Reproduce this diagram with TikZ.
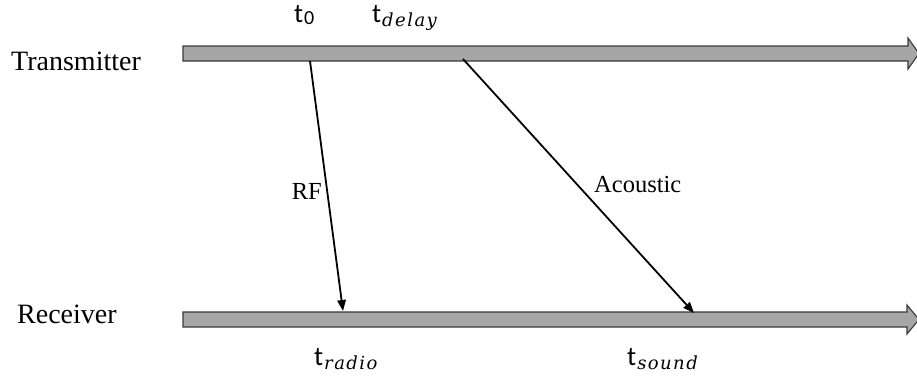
\documentclass[tikz,border=0pt]{standalone}
\usepackage{fontspec}
\setmainfont{Liberation Serif}
\newfontfamily\tfont{Carlito}
\newfontfamily\subfont[LetterSpace=8]{DejaVu Serif}
\usetikzlibrary{arrows.meta}
\definecolor{bargray}{HTML}{A6A6A6}
\definecolor{barline}{HTML}{3A3A3A}
\tikzset{
  bar/.style={fill=bargray,draw=barline,line width=1.1pt,line join=miter},
  msg/.style={draw=black,line width=1.8pt,-{Triangle[length=11pt,width=8.5pt]}},
  lbl/.style={inner sep=0pt,font=\fontsize{28}{30}\selectfont},
  slbl/.style={inner sep=0pt,font=\fontsize{24.5}{27}\selectfont},
  tlbl/.style={inner sep=0pt,anchor=base west,font=\tfont\fontsize{27}{30}\selectfont},
}
\newcommand{\tsub}[1]{\kern1pt\raisebox{-4pt}{\subfont\fontsize{18}{20}\selectfont\itshape #1}}
\newcommand{\tsubup}[1]{\kern1pt\raisebox{-2.5pt}{\fontsize{20}{20}\selectfont #1}}
\begin{document}
\begin{tikzpicture}[x=1pt,y=-1pt]
\useasboundingbox (0,0) rectangle (917,383);
% bars
\path[bar] (183,46) -- (908,46) -- (908,38) -- (919,53.5) -- (908,69) -- (908,61) -- (183,61) -- cycle;
\path[bar] (183,312) -- (907,312) -- (907,305) -- (919,319.5) -- (907,334) -- (907,327) -- (183,327) -- cycle;
% endpoints
\coordinate (rfs) at (310,61);
\coordinate (rfe) at (343,311);
\coordinate (acs) at (463,59);
\coordinate (ace) at (694,313);
% labels
\node[lbl,anchor=base west] (tx) at (11,70) {Transmitter};
\node[lbl,anchor=base west] (rx) at (17,323) {Receiver};
\node[slbl,anchor=base east] (rf) at (322,199) {RF};
\node[slbl,anchor=base west] (ac) at (594,192) {Acoustic};
\node[tlbl] (t0) at (294,22) {t\tsubup{0}};
\node[tlbl] (td) at (372,22) {t\tsub{delay}};
\node[tlbl] (tr) at (314,365) {t\tsub{radio}};
\node[tlbl] (ts) at (627,365) {t\tsub{sound}};
% messages
\draw[msg] (rfs) -- (rfe);
\draw[msg] (acs) -- (ace);
\end{tikzpicture}
\end{document}
